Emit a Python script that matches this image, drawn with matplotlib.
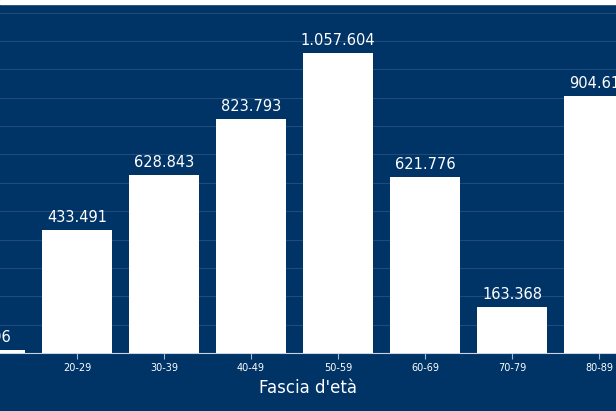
import matplotlib.pyplot as plt
import numpy as np

fasce = ["10-19", "20-29", "30-39", "40-49", "50-59", "60-69", "70-79", "80-89"]
valori = [9996, 433491, 628843, 823793, 1057604, 621776, 163368, 904612]
etichette = ["9.996", "433.491", "628.843", "823.793", "1.057.604", "621.776", "163.368", "904.612"]

BG = "#003366"
W, H = 616, 411
fig = plt.figure(figsize=(W / 100, H / 100), dpi=100, facecolor=BG)
ax = fig.add_axes([0, 58 / H, 1, (353 - 4) / H])
ax.set_facecolor(BG)

x = np.arange(len(fasce))
ax.bar(x, valori, width=0.8, color="white", zorder=3)
for xi, v, lab in zip(x, valori, etichette):
    ax.text(xi, v + 18000, lab, ha="center", va="bottom", color="white",
            fontsize=10.5, zorder=4)

ax.set_xticks(x)
ax.set_xticklabels(fasce, color="white", fontsize=7)
ax.set_yticks(np.arange(0, 1.3e6, 1e5))
ax.set_xlim(1 - 77 / 87, 1 + 539 / 87)
ax.set_ylim(0, 349 / 283.6 * 1e6)
ax.yaxis.grid(True, color="#1f4a7a", linewidth=0.8, zorder=0)
ax.tick_params(axis="y", left=False, labelleft=False)
ax.tick_params(axis="x", colors="#a0b8d8", length=4, labelcolor="white")
for s in ["top", "right", "left"]:
    ax.spines[s].set_visible(False)
ax.spines["bottom"].set_color("#c8d4e6")
ax.set_xlabel("Fascia d'età", color="white", fontsize=12, labelpad=4)

fig.patches.append(plt.Rectangle((0, 1 - 4 / H), 1, 4 / H, transform=fig.transFigure,
                                 color="white", zorder=10))
fig.savefig("out.png", dpi=100, facecolor=BG)
